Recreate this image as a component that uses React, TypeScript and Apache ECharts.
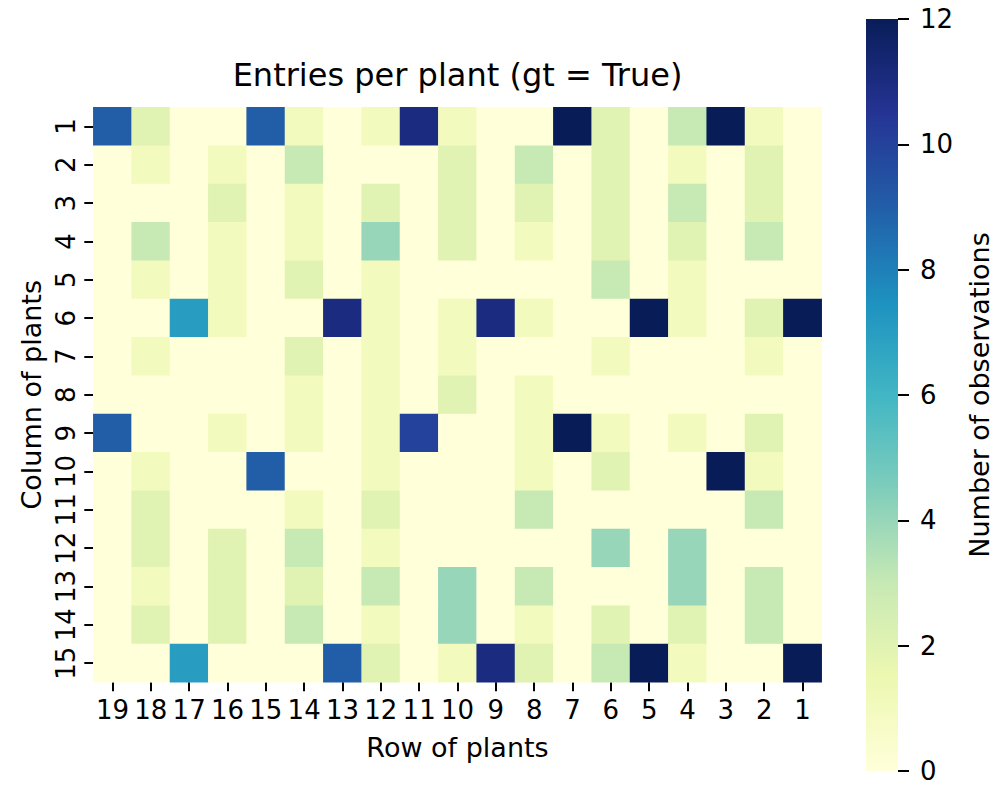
import React, { useEffect, useRef } from "react";
import * as echarts from "echarts";

const xCategories = ["19", "18", "17", "16", "15", "14", "13", "12", "11", "10", "9", "8", "7", "6", "5", "4", "3", "2", "1"];
const yCategories = ["1", "2", "3", "4", "5", "6", "7", "8", "9", "10", "11", "12", "13", "14", "15"];

// each row: values for plant rows 19 → 1 (left to right)
const row1 = [9, 2, 0, 0, 9, 1, 0, 1, 11, 1, 0, 0, 12, 2, 0, 3, 12, 1, 0];
const row2 = [0, 1, 0, 1, 0, 3, 0, 0, 0, 2, 0, 3, 0, 2, 0, 1, 0, 2, 0];
const row3 = [0, 0, 0, 2, 0, 1, 0, 2, 0, 2, 0, 2, 0, 2, 0, 3, 0, 2, 0];
const row4 = [0, 3, 0, 1, 0, 1, 0, 4, 0, 2, 0, 1, 0, 2, 0, 2, 0, 3, 0];
const row5 = [0, 1, 0, 1, 0, 2, 0, 1, 0, 0, 0, 0, 0, 3, 0, 1, 0, 0, 0];
const row6 = [0, 0, 7, 1, 0, 0, 11, 1, 0, 1, 11, 1, 0, 0, 12, 1, 0, 2, 12];
const row7 = [0, 1, 0, 0, 0, 2, 0, 1, 0, 1, 0, 0, 0, 1, 0, 0, 0, 1, 0];
const row8 = [0, 0, 0, 0, 0, 1, 0, 1, 0, 2, 0, 1, 0, 0, 0, 0, 0, 0, 0];
const row9 = [9, 0, 0, 1, 0, 1, 0, 1, 10, 0, 0, 1, 12, 1, 0, 1, 0, 2, 0];
const row10 = [0, 1, 0, 0, 9, 0, 0, 1, 0, 0, 0, 1, 0, 2, 0, 0, 12, 1, 0];
const row11 = [0, 2, 0, 0, 0, 1, 0, 2, 0, 0, 0, 3, 0, 0, 0, 0, 0, 3, 0];
const row12 = [0, 2, 0, 2, 0, 3, 0, 1, 0, 0, 0, 0, 0, 4, 0, 4, 0, 0, 0];
const row13 = [0, 1, 0, 2, 0, 2, 0, 3, 0, 4, 0, 3, 0, 0, 0, 4, 0, 3, 0];
const row14 = [0, 2, 0, 2, 0, 3, 0, 1, 0, 4, 0, 1, 0, 2, 0, 2, 0, 3, 0];
const row15 = [0, 0, 7, 0, 0, 0, 9, 2, 0, 1, 11, 2, 0, 3, 12, 1, 0, 0, 12];

const rows = [row1, row2, row3, row4, row5, row6, row7, row8, row9, row10, row11, row12, row13, row14, row15];

const colorMin = 0;
const colorMax = 12;
const colorTickStep = 2;
const ylgnbu = ["#ffffd9", "#edf8b1", "#c7e9b4", "#7fcdbb", "#41b6c4", "#1d91c0", "#225ea8", "#253494", "#081d58"];

const FONT = "DejaVu Sans";

export default function App() {
  const ref = useRef<HTMLDivElement>(null);

  useEffect(() => {
    if (!ref.current) return;
    const chart = echarts.init(ref.current, undefined, { renderer: "svg" });

    const data: [number, number, number][] = [];
    rows.forEach((r, yi) => {
      r.forEach((v, xi) => {
        data.push([xi, yi, v]);
      });
    });

    const gLeft = 93.3;
    const gTop = 107.3;
    const gW = 728.4;
    const gH = 575;
    const cbLeft = 866;
    const cbTop = 19;
    const cbW = 38;
    const cbH = 752;

    // gradient stops for the colour bar (top = max, bottom = min)
    const cbStops = ylgnbu
      .map((c, i) => ({ offset: 1 - i / (ylgnbu.length - 1), color: c }))
      .reverse();

    chart.setOption({
      animation: false,
      textStyle: { fontFamily: FONT, color: "#000" },
      graphic: [
        {
          type: "text",
          x: gLeft + gW / 2,
          y: 59,
          style: {
            text: "Entries per plant (gt = True)",
            fontFamily: FONT,
            fontSize: 32,
            fill: "#000",
            textAlign: "center",
            textVerticalAlign: "top",
          },
        },
      ],
      grid: [
        { left: gLeft, top: gTop, width: gW, height: gH },
        { left: cbLeft, top: cbTop, width: cbW, height: cbH },
      ],
      xAxis: [
        {
          type: "category",
          gridIndex: 0,
          data: xCategories,
          position: "bottom",
          axisLine: { show: false },
          axisTick: { show: true, alignWithLabel: true, length: 9, lineStyle: { color: "#000", width: 2 } },
          axisLabel: { fontFamily: FONT, fontSize: 26, color: "#000", margin: 15, interval: 0 },
          splitLine: { show: false },
          splitArea: { show: false },
          name: "Row of plants",
          nameLocation: "middle",
          nameGap: 52,
          nameTextStyle: { fontFamily: FONT, fontSize: 27, color: "#000" },
        },
        {
          type: "value",
          gridIndex: 1,
          show: false,
          min: 0,
          max: 1,
          axisLine: { show: false, onZero: false },
          axisTick: { show: false },
          axisLabel: { show: false },
          splitLine: { show: false },
        },
      ],
      yAxis: [
        {
          type: "category",
          gridIndex: 0,
          data: yCategories,
          inverse: true,
          axisLine: { show: false },
          axisTick: { show: true, alignWithLabel: true, length: 9, lineStyle: { color: "#000", width: 2 } },
          axisLabel: { fontFamily: FONT, fontSize: 26, color: "#000", margin: 14, rotate: 90, interval: 0 },
          splitLine: { show: false },
          splitArea: { show: false },
          name: "Column of plants",
          nameLocation: "middle",
          nameGap: 48,
          nameTextStyle: { fontFamily: FONT, fontSize: 27, color: "#000" },
        },
        {
          type: "value",
          gridIndex: 1,
          min: colorMin,
          max: colorMax,
          interval: colorTickStep,
          position: "right",
          axisLine: { show: false, onZero: false },
          axisTick: { show: true, length: 11, lineStyle: { color: "#000", width: 2 } },
          axisLabel: { fontFamily: FONT, fontSize: 26, color: "#000", margin: 22 },
          splitLine: { show: false },
          name: "Number of observations",
          nameLocation: "middle",
          nameGap: 68,
          nameTextStyle: { fontFamily: FONT, fontSize: 27, color: "#000" },
        },
      ],
      visualMap: {
        type: "continuous",
        show: false,
        min: colorMin,
        max: colorMax,
        seriesIndex: 0,
        inRange: { color: ylgnbu },
      },
      series: [
        {
          type: "heatmap",
          xAxisIndex: 0,
          yAxisIndex: 0,
          data,
          itemStyle: { borderWidth: 0 },
          emphasis: { disabled: true },
        },
        {
          type: "custom",
          xAxisIndex: 1,
          yAxisIndex: 1,
          silent: true,
          data: [[0, colorMin, 1, colorMax]],
          renderItem: (params: any, api: any) => {
            const p0 = api.coord([api.value(0), api.value(3)]);
            const p1 = api.coord([api.value(2), api.value(1)]);
            return {
              type: "rect",
              shape: { x: p0[0], y: p0[1], width: p1[0] - p0[0], height: p1[1] - p0[1] },
              style: {
                fill: new echarts.graphic.LinearGradient(0, 0, 0, 1, cbStops),
              },
            };
          },
        },
      ],
    });

    return () => chart.dispose();
  }, []);

  return (
    <div
      ref={ref}
      style={{ position: "absolute", left: 0, top: 0, width: 994, height: 785 }}
    />
  );
}
